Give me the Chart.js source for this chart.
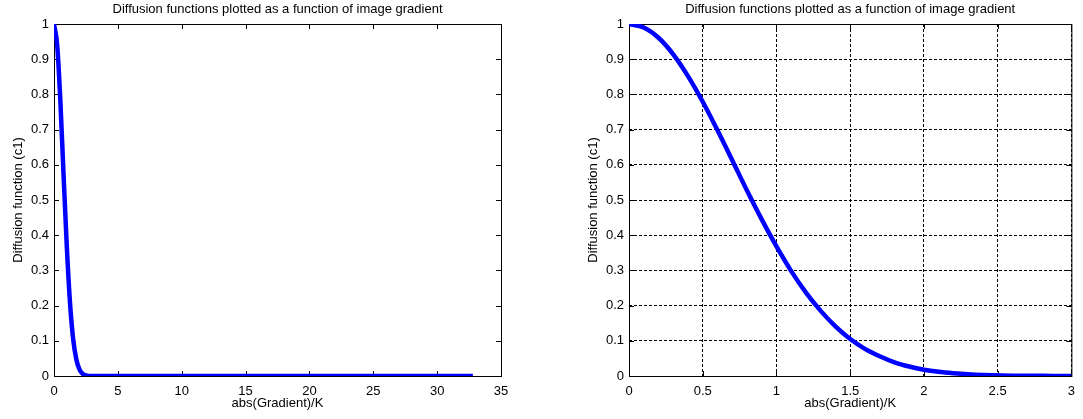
<!DOCTYPE html>
<html>
<head>
<meta charset="utf-8">
<script src="https://cdn.jsdelivr.net/npm/chart.js@4.4.0/dist/chart.umd.min.js"></script>
<style>
  body { margin: 0; background: #fff; }
  .panel { position: absolute; top: 0; }
</style>
</head>
<body>
<div class="panel" style="left:0"><canvas id="leftChart" width="540" height="419"></canvas></div>
<div class="panel" style="left:540px"><canvas id="rightChart" width="543" height="419"></canvas></div>
<script>
// Left plot: diffusion function over the whole gradient range
const leftX = [0, 0.25, 0.5, 0.75, 1, 1.25, 1.5, 1.75, 2, 2.25, 2.5, 3, 6, 10, 15, 20, 25, 30, 32.8];
const leftY = [1, 0.94, 0.78, 0.57, 0.37, 0.21, 0.105, 0.047, 0.018, 0.006, 0.002, 0, 0, 0, 0, 0, 0, 0, 0];
const leftXTicks = [0, 5, 10, 15, 20, 25, 30, 35];
const leftXLabels = ['0', '5', '10', '15', '20', '25', '30', '35'];

// Right plot: zoomed in on 0..3
const rightX = [0, 0.1, 0.2, 0.3, 0.4, 0.5, 0.6, 0.7, 0.8, 0.9, 1, 1.1, 1.2, 1.3, 1.4, 1.5,
                1.6, 1.7, 1.8, 1.9, 2, 2.1, 2.2, 2.3, 2.4, 2.5, 2.6, 2.7, 2.8, 2.9, 3];
const rightY = [1, 0.99, 0.961, 0.914, 0.852, 0.779, 0.698, 0.613, 0.527, 0.445, 0.368, 0.298,
                0.237, 0.185, 0.141, 0.105, 0.077, 0.056, 0.039, 0.027, 0.018, 0.012, 0.008,
                0.005, 0.003, 0.002, 0.001, 0.0007, 0.0004, 0.0002, 0.0001];
const rightXTicks = [0, 0.5, 1, 1.5, 2, 2.5, 3];
const rightXLabels = ['0', '0.5', '1', '1.5', '2', '2.5', '3'];

// Shared y axis
const yTicks = [0, 0.1, 0.2, 0.3, 0.4, 0.5, 0.6, 0.7, 0.8, 0.9, 1];
const yLabels = ['0', '0.1', '0.2', '0.3', '0.4', '0.5', '0.6', '0.7', '0.8', '0.9', '1'];

const plotTitle = 'Diffusion functions plotted as a function of image gradient';

Chart.defaults.font.family = '"Liberation Sans", Arial, Helvetica, sans-serif';
Chart.defaults.color = '#000';

// Matlab style box with inward ticks, plus the title above the axes
const matlabBox = {
    id: 'matlabBox',
    beforeDatasetsDraw(chart) {
        const { ctx, chartArea: a, scales: { x, y } } = chart;
        ctx.save();
        ctx.strokeStyle = '#000';
        ctx.lineWidth = 1;
        ctx.beginPath();
        x.ticks.forEach(t => {
            const px = Math.round(x.getPixelForValue(t.value)) + 0.5;
            ctx.moveTo(px, a.bottom); ctx.lineTo(px, a.bottom - 5);
            ctx.moveTo(px, a.top); ctx.lineTo(px, a.top + 5);
        });
        y.ticks.forEach(t => {
            const py = Math.round(y.getPixelForValue(t.value)) + 0.5;
            ctx.moveTo(a.left, py); ctx.lineTo(a.left + 5, py);
            ctx.moveTo(a.right, py); ctx.lineTo(a.right - 5, py);
        });
        ctx.stroke();
        ctx.strokeRect(a.left + 0.5, a.top + 0.5, a.right - a.left, a.bottom - a.top);

        ctx.fillStyle = '#000';
        ctx.font = '13px "Liberation Sans", Arial, sans-serif';
        ctx.textAlign = 'center';
        ctx.textBaseline = 'middle';
        ctx.fillText(plotTitle, (a.left + a.right) / 2, 9);
        ctx.restore();
    }
};

function buildChart(canvasId, xs, ys, xTicks, xLabels, xMax, yAxisWidth, rightPad, yTitlePad, showGrid) {
    const points = xs.map((v, i) => ({ x: v, y: ys[i] }));
    const gridOpts = showGrid
        ? { display: true, color: '#000', lineWidth: 1, drawTicks: false }
        : { display: false, drawTicks: false };

    return new Chart(document.getElementById(canvasId), {
        type: 'scatter',
        data: {
            datasets: [{
                data: points,
                showLine: true,
                borderColor: '#0000ff',
                backgroundColor: '#0000ff',
                borderWidth: 4.5,
                pointRadius: 0,
                cubicInterpolationMode: 'monotone'
            }]
        },
        options: {
            responsive: false,
            animation: false,
            layout: { padding: { top: 24, right: rightPad, bottom: 0, left: 0 } },
            plugins: { legend: { display: false }, tooltip: { enabled: false } },
            scales: {
                x: {
                    type: 'linear',
                    min: 0,
                    max: xMax,
                    grid: gridOpts,
                    border: { display: false, dash: [3, 2] },
                    afterBuildTicks: scale => { scale.ticks = xTicks.map(v => ({ value: v })); },
                    afterFit: scale => { scale.height = 43; },
                    ticks: {
                        font: { size: 13 },
                        padding: 8,
                        maxRotation: 0,
                        callback: (value, index) => xLabels[index]
                    },
                    title: { display: true, text: 'abs(Gradient)/K', font: { size: 13 }, padding: 8 }
                },
                y: {
                    type: 'linear',
                    min: 0,
                    max: 1,
                    grid: gridOpts,
                    border: { display: false, dash: [3, 2] },
                    afterBuildTicks: scale => { scale.ticks = yTicks.map(v => ({ value: v })); },
                    afterFit: scale => { scale.width = yAxisWidth; },
                    ticks: {
                        font: { size: 13 },
                        padding: 5,
                        callback: (value, index) => yLabels[index]
                    },
                    title: { display: true, text: 'Diffusion function (c1)', font: { size: 13 }, padding: yTitlePad }
                }
            }
        },
        plugins: [matlabBox]
    });
}

buildChart('leftChart', leftX, leftY, leftXTicks, leftXLabels, 35, 54, 39, 11, false);
buildChart('rightChart', rightX, rightY, rightXTicks, rightXLabels, 3, 89, 6, 46, true);
</script>
</body>
</html>
